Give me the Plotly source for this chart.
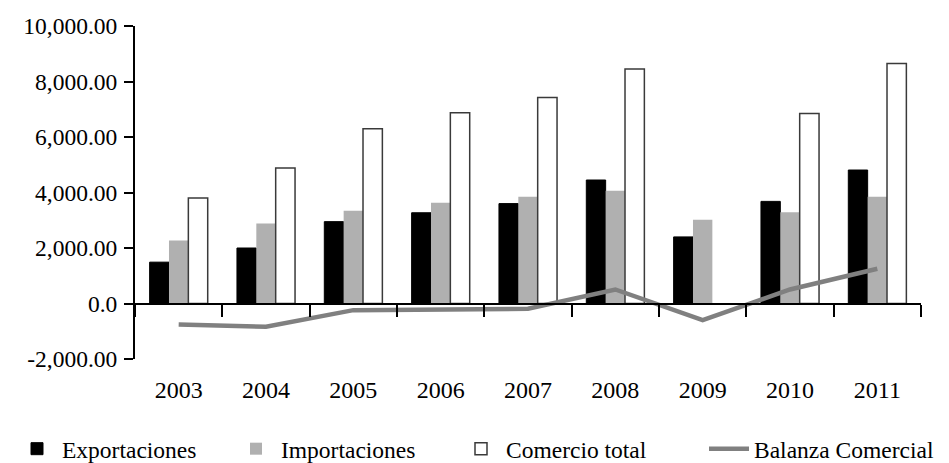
import plotly.graph_objects as go

years = ["2003", "2004", "2005", "2006", "2007", "2008", "2009", "2010", "2011"]
exportaciones = [1490, 2000, 2950, 3270, 3600, 4450, 2400, 3680, 4810]
importaciones = [2270, 2880, 3345, 3630, 3850, 4065, 3020, 3285, 3850]
comercio_total = [3800, 4880, 6300, 6870, 7420, 8450, None, 6845, 8645]
balanza = [-755, -840, -240, -215, -190, 505, -600, 505, 1250]

ytick_vals = [-2000, 0, 2000, 4000, 6000, 8000, 10000]
ytick_text = ["-2,000.00", "0.0", "2,000.00", "4,000.00", "6,000.00", "8,000.00", "10,000.00"]

FONT = "Liberation Serif, Times New Roman, serif"

fig = go.Figure()
fig.add_trace(go.Bar(x=years, y=exportaciones, name="Exportaciones",
                     marker=dict(color="#000000", line=dict(color="#000000", width=1)),
                     legend="legend"))
fig.add_trace(go.Bar(x=years, y=importaciones, name="Importaciones",
                     marker=dict(color="#b0b0b0", line=dict(color="#b0b0b0", width=0)),
                     legend="legend2"))
fig.add_trace(go.Bar(x=years, y=comercio_total, name="Comercio total",
                     marker=dict(color="#ffffff", line=dict(color="#3a3a3a", width=1.5)),
                     legend="legend3"))
fig.add_trace(go.Scatter(x=years, y=balanza, name="Balanza Comercial", mode="lines",
                         line=dict(color="#808080", width=4.5),
                         legend="legend4"))

leg_common = dict(orientation="h", yanchor="middle", y=-0.27, xanchor="left",
                  font=dict(family=FONT, size=23.5, color="#000000"),
                  bgcolor="rgba(0,0,0,0)", itemwidth=40, tracegroupgap=0)

def px_to_paper(px):
    return (px - 135) / (921 - 135)

fig.update_layout(
    width=949, height=463,
    margin=dict(l=135, r=28, t=26, b=104, autoexpand=False),
    paper_bgcolor="#ffffff", plot_bgcolor="#ffffff",
    barmode="group", bargap=0.335, bargroupgap=0,
    font=dict(family=FONT, size=24, color="#000000"),
    xaxis=dict(type="category", anchor="free", position=2000 / 12000,
               showline=True, linecolor="#000000", linewidth=2,
               ticks="outside", tickson="boundaries", ticklen=12, tickwidth=2, tickcolor="#000000",
               ticklabelstandoff=65, showgrid=False, zeroline=False,
               tickfont=dict(family=FONT, size=24, color="#000000")),
    yaxis=dict(range=[-2000, 10000], tickvals=ytick_vals, ticktext=ytick_text,
               showline=True, linecolor="#000000", linewidth=2,
               ticks="outside", ticklen=9, tickwidth=2, tickcolor="#000000",
               ticklabelstandoff=2, showgrid=False, zeroline=False,
               tickfont=dict(family=FONT, size=23.5, color="#000000")),
    legend=dict(leg_common, x=px_to_paper(12)),
    legend2=dict(leg_common, x=px_to_paper(231)),
    legend3=dict(leg_common, x=px_to_paper(456)),
    legend4=dict(leg_common, x=px_to_paper(704)),
    showlegend=True,
)

fig.write_html("out.html", config={"displayModeBar": False},
               post_script="document.body.style.margin='0px';")
